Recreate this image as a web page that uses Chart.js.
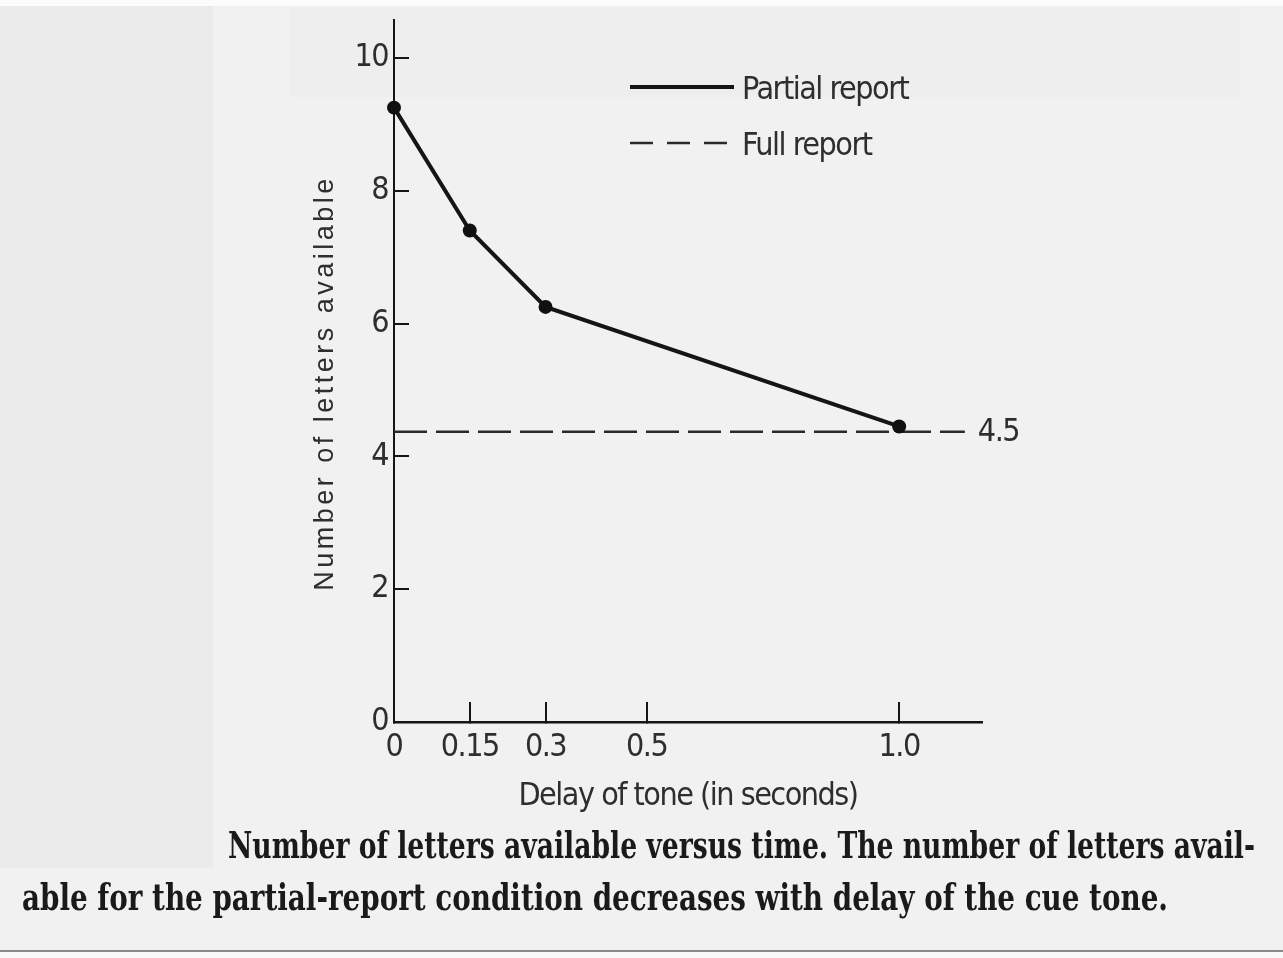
<!DOCTYPE html>
<html><head><meta charset="utf-8">
<script src="https://cdn.jsdelivr.net/npm/chart.js@4.4.1/dist/chart.umd.min.js"></script>
<style>
html,body{margin:0;padding:0;width:1283px;height:958px;overflow:hidden;background:#f1f1f1;}
.bg{position:absolute;}
#wrap{position:absolute;left:0;top:0;width:1283px;height:958px;}
.cap{position:absolute;white-space:nowrap;font-family:"DejaVu Serif",serif;font-weight:bold;font-size:37px;line-height:37px;color:#1a1a1a;transform-origin:0 0;}
</style></head><body>
<div class="bg" style="left:0;top:0;width:1283px;height:6px;background:#fcfcfc"></div>
<div class="bg" style="left:0;top:6px;width:213px;height:862px;background:#ebebeb"></div>
<div class="bg" style="left:290px;top:8px;width:950px;height:89px;background:#eeeeee"></div>
<div class="bg" style="left:0;top:950px;width:1283px;height:2px;background:#8a8a8a"></div>
<div class="bg" style="left:0;top:952px;width:1283px;height:6px;background:#f9f9f9"></div>
<div id="wrap"><canvas id="c"></canvas></div>
<div class="cap" id="cap1"></div>
<div class="cap" id="cap2"></div>
<script>
// ---- data ----
const delaySeconds = [0, 0.15, 0.3, 1.0];
const partialReport = [9.25, 7.4, 6.25, 4.45];
const fullReportX = [0, 1.13];
const fullReportY = [4.37, 4.37];
const fullReportLabel = '4.5';
const xTickValues = [0, 0.15, 0.3, 0.5, 1.0];
const xTickLabels = ['0', '0.15', '0.3', '0.5', '1.0'];
const yTickLabels = ['0', '2', '4', '6', '8', '10'];
const seriesNames = ['Partial report', 'Full report'];
const xTitle = 'Delay of tone (in seconds)';
const yTitle = 'Number of letters available';
const captionLines = [
  'Number of letters available versus time. The number of letters avail-',
  'able for the partial-report condition decreases with delay of the cue tone.'
];

// ---- styling ----
const NARROW = '"Liberation Sans Narrow","Arial Narrow","DejaVu Sans Condensed",sans-serif';
const FS = 32;
const TIGHT = '-1.5px';
const INK = '#2e2e2e';
const LINE = '#151515';
Chart.defaults.font.family = NARROW;
Chart.defaults.color = INK;

const spacingPlugin = {
  id: 'spacing',
  beforeUpdate(chart) { try { chart.ctx.letterSpacing = TIGHT; } catch (e) {} },
  beforeLayout(chart) { try { chart.ctx.letterSpacing = TIGHT; } catch (e) {} },
  beforeDraw(chart) {
    try { chart.ctx.letterSpacing = TIGHT; } catch (e) {}
    const s = chart.scales.y;
    if (s && !s._patched) {
      const orig = s.drawTitle;
      s.drawTitle = function () {
        const c = this.ctx;
        c.save();
        try { c.letterSpacing = '3.5px'; } catch (e) {}
        c.translate(0, 12);
        orig.call(this);
        c.restore();
      };
      s._patched = true;
    }
  }
};

const legendPlugin = {
  id: 'sketchLegend',
  afterDraw(chart, args, opts) {
    const c = chart.ctx;
    chart.data.datasets.forEach((ds, i) => {
      const it = opts.items[i];
      c.save();
      c.strokeStyle = ds.borderColor;
      c.lineWidth = it.lineWidth;
      c.setLineDash(it.dash);
      c.beginPath();
      c.moveTo(it.x0, it.y);
      c.lineTo(it.x1, it.y);
      c.stroke();
      c.setLineDash([]);
      c.fillStyle = INK;
      c.font = FS + 'px ' + NARROW;
      try { c.letterSpacing = TIGHT; } catch (e) {}
      c.textBaseline = 'alphabetic';
      c.textAlign = 'left';
      c.fillText(ds.label, it.x1 + 8, it.baseline);
      c.restore();
    });
  }
};

const endLabelPlugin = {
  id: 'endLabel',
  afterDatasetsDraw(chart) {
    const c = chart.ctx;
    const last = fullReportX.length - 1;
    const px = chart.scales.x.getPixelForValue(fullReportX[last]);
    const py = chart.scales.y.getPixelForValue(fullReportY[last]);
    c.save();
    c.fillStyle = INK;
    c.font = FS + 'px ' + NARROW;
    try { c.letterSpacing = TIGHT; } catch (e) {}
    c.textBaseline = 'middle';
    c.textAlign = 'left';
    c.fillText(fullReportLabel, px + 13, py + 1);
    c.restore();
  }
};

new Chart(document.getElementById('c'), {
  type: 'line',
  data: {
    datasets: [
      {
        label: seriesNames[0],
        data: delaySeconds.map((x, i) => ({ x, y: partialReport[i] })),
        borderColor: LINE, backgroundColor: LINE,
        borderWidth: 4, tension: 0,
        pointRadius: 7, pointBackgroundColor: '#101010', pointBorderWidth: 0,
        clip: false
      },
      {
        label: seriesNames[1],
        data: fullReportX.map((x, i) => ({ x, y: fullReportY[i] })),
        borderColor: '#2a2a2a', backgroundColor: '#2a2a2a',
        borderWidth: 2.5, borderDash: [33, 9], pointRadius: 0,
        clip: false
      }
    ]
  },
  options: {
    responsive: true, maintainAspectRatio: false, animation: false,
    events: [],
    layout: { padding: { left: 290, top: 20, right: 301, bottom: 126 } },
    plugins: {
      legend: { display: false },
      tooltip: { enabled: false },
      sketchLegend: {
        items: [
          { x0: 630, x1: 734, y: 87, baseline: 99, lineWidth: 4, dash: [] },
          { x0: 630, x1: 734, y: 143, baseline: 155, lineWidth: 2.5, dash: [23, 14] }
        ]
      }
    },
    scales: {
      x: {
        type: 'linear', min: 0, max: 1.164,
        afterBuildTicks: s => { s.ticks = xTickValues.map(v => ({ value: v })); },
        afterFit: s => { s.height = 110; s.paddingLeft = 0; s.paddingRight = 0; },
        ticks: { autoSkip: false, maxRotation: 0, minRotation: 0, padding: 26, font: { size: FS }, color: INK,
                 callback: (v, i) => xTickLabels[i] },
        grid: { drawOnChartArea: false, drawTicks: true, tickLength: -20, color: LINE, lineWidth: 2 },
        border: { display: true, color: LINE, width: 2.5 },
        title: { display: true, text: xTitle, font: { size: FS }, color: INK, padding: { top: 0, bottom: 16 } }
      },
      y: {
        type: 'linear', min: 0, max: 10.57,
        afterFit: s => { s.width = 104; s.paddingTop = 0; s.paddingBottom = 0; },
        ticks: { stepSize: 2, includeBounds: false, padding: 21, font: { size: FS }, color: INK,
                 callback: (v, i) => yTickLabels[i] },
        grid: { drawOnChartArea: false, drawTicks: true, tickLength: -15, color: LINE, lineWidth: 2 },
        border: { display: true, color: LINE, width: 2 },
        title: { display: true, text: yTitle, font: { family: '"Liberation Sans",Arial,sans-serif', size: 27 },
                 color: INK, padding: { top: 19, bottom: 0 } }
      }
    }
  },
  plugins: [spacingPlugin, legendPlugin, endLabelPlugin]
});

// ---- caption (real text, fitted to the reference line widths) ----
const capSpecs = [
  { el: document.getElementById('cap1'), left: 228, right: 1255, top: 827 },
  { el: document.getElementById('cap2'), left: 22, right: 1168, top: 879 }
];
capSpecs.forEach((s, i) => { s.el.textContent = captionLines[i]; s.el.style.left = s.left + 'px'; s.el.style.top = s.top + 'px'; });
function fitCaps() {
  capSpecs.forEach(s => {
    s.el.style.transform = 'none';
    const w = s.el.getBoundingClientRect().width;
    s.el.style.transform = 'scaleX(' + ((s.right - s.left) / w) + ')';
  });
}
fitCaps();
if (document.fonts && document.fonts.ready) document.fonts.ready.then(fitCaps);
</script>
</body></html>
